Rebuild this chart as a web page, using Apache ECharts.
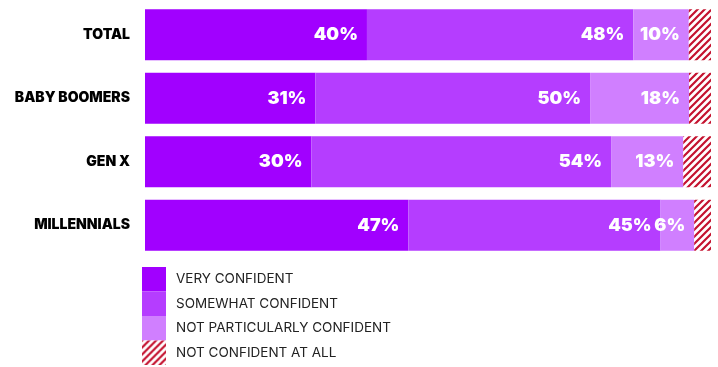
<!DOCTYPE html>
<html>
<head>
<meta charset="utf-8">
<script src="https://cdn.jsdelivr.net/npm/echarts@6/dist/echarts.min.js"></script>
<style>
  html, body { margin: 0; padding: 0; background: #fff; }
  #chart { width: 718px; height: 367px; }
</style>
</head>
<body>
<div id="chart"></div>
<script>
// data
const categories = ['TOTAL', 'BABY BOOMERS', 'GEN X', 'MILLENNIALS']
const seriesNames = ['VERY CONFIDENT', 'SOMEWHAT CONFIDENT', 'NOT PARTICULARLY CONFIDENT', 'NOT CONFIDENT AT ALL']
const veryConfident = [40, 31, 30, 47]
const somewhatConfident = [48, 50, 54, 45]
const notParticularly = [10, 18, 13, 6]
const notAtAll = [4, 4, 5, 3] // unlabelled

// red diagonal stripes on white, used for the last series
function stripePattern() {
  const s = 7
  const c = document.createElement('canvas')
  c.width = s
  c.height = s
  const ctx = c.getContext('2d')
  ctx.fillStyle = '#ffffff'
  ctx.fillRect(0, 0, s, s)
  ctx.strokeStyle = '#c4122f'
  ctx.lineWidth = 2.2
  ctx.beginPath()
  ctx.moveTo(-1, s + 1); ctx.lineTo(s + 1, -1)
  ctx.moveTo(-s - 1, s + 1); ctx.lineTo(1, -1)
  ctx.moveTo(-1, 2 * s + 1); ctx.lineTo(2 * s + 1, -1)
  ctx.stroke()
  return { image: c, repeat: 'repeat' }
}

const allValues = [veryConfident, somewhatConfident, notParticularly, notAtAll]
const rowSums = categories.map((_, i) => allValues.reduce((a, arr) => a + arr[i], 0))
const colors = ['#a100ff', '#b53dff', '#d07fff', stripePattern()]

const chart = echarts.init(document.getElementById('chart'))

const series = allValues.map((arr, k) => ({
  name: seriesNames[k],
  type: 'bar',
  stack: 'all',
  barWidth: 51,
  itemStyle: { color: colors[k] },
  label: {
    show: k < 3,
    position: 'insideRight',
    distance: 9,
    color: '#fff',
    fontFamily: 'Inter',
    fontWeight: 900,
    fontSize: 18,
    formatter: p => arr[p.dataIndex] + '%'
  },
  data: arr.map((v, i) => v / rowSums[i] * 100)
}))

chart.setOption({
  animation: false,
  grid: { left: 145, right: 7, top: 3, bottom: 110 },
  xAxis: {
    type: 'value',
    min: 0,
    max: 100,
    show: false
  },
  yAxis: {
    type: 'category',
    inverse: true,
    data: categories,
    axisLine: { show: false },
    axisTick: { show: false },
    axisLabel: {
      margin: 15,
      color: '#000',
      fontFamily: 'Inter',
      fontWeight: 900,
      fontSize: 14
    }
  },
  legend: {
    orient: 'vertical',
    left: 142,
    top: 267,
    padding: 0,
    itemWidth: 24,
    itemHeight: 24.5,
    itemGap: 0,
    icon: 'rect',
    textStyle: {
      color: '#222',
      fontFamily: 'Inter',
      fontSize: 13.5,
      padding: [3, 0, 0, 5]
    },
    data: seriesNames
  },
  series: series
})
</script>
</body>
</html>
